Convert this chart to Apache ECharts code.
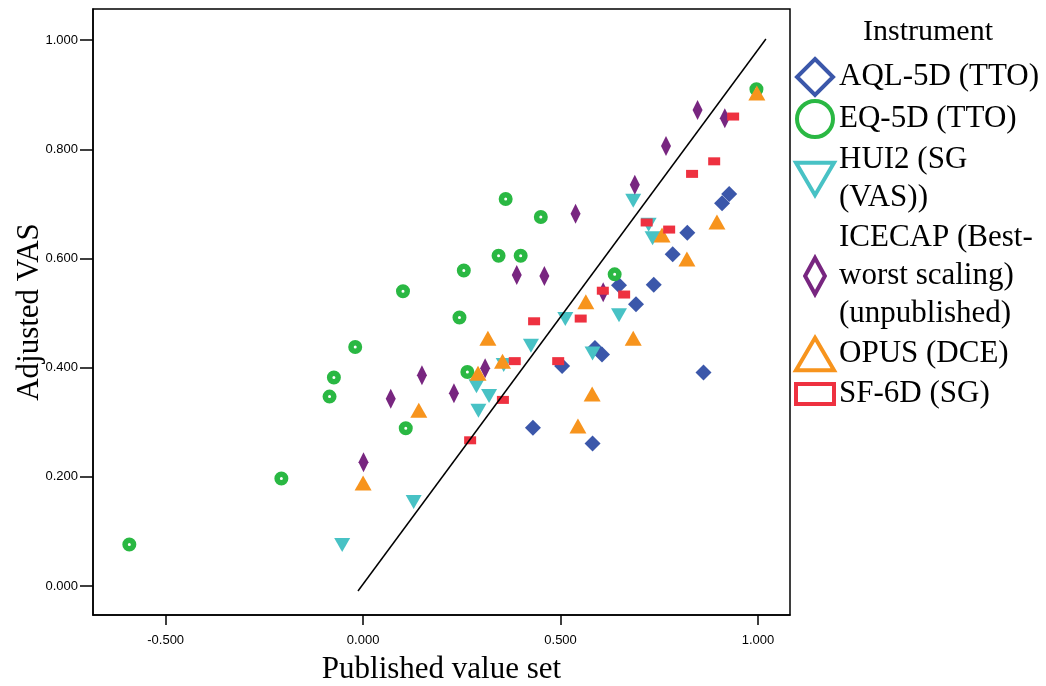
<!DOCTYPE html>
<html>
<head>
<meta charset="UTF-8">
<script src="https://cdn.jsdelivr.net/npm/echarts@6.0.0/dist/echarts.min.js"></script>
<style>
  * { margin: 0; padding: 0; }
  body { background: #fff; }
  #chart { width: 1046px; height: 686px; }
</style>
</head>
<body>
<div id="chart"></div>
<script>
// point data [published, adjusted VAS] per instrument
var aql = [[0.927,0.718],[0.909,0.701],[0.821,0.647],[0.784,0.608],[0.736,0.552],[0.648,0.551],
  [0.691,0.516],[0.587,0.436],[0.605,0.424],[0.504,0.403],[0.862,0.391],[0.430,0.290],[0.581,0.261]];
var eq = [[0.996,0.910],[0.361,0.709],[0.450,0.676],[0.343,0.605],[0.399,0.605],[0.255,0.578],
  [0.637,0.571],[0.101,0.540],[0.244,0.492],[-0.020,0.438],[0.264,0.392],[-0.074,0.382],
  [-0.085,0.347],[0.108,0.289],[-0.207,0.197],[-0.592,0.076]];
var hui2 = [[0.684,0.706],[0.723,0.662],[0.733,0.637],[0.512,0.489],[0.648,0.496],[0.425,0.440],
  [0.581,0.426],[0.356,0.405],[0.287,0.366],[0.319,0.348],[0.292,0.321],[0.128,0.154],[-0.053,0.075]];
var icecap = [[0.847,0.872],[0.916,0.857],[0.767,0.806],[0.688,0.735],[0.538,0.682],[0.389,0.570],
  [0.459,0.568],[0.608,0.538],[0.309,0.399],[0.149,0.386],[0.230,0.353],[0.070,0.343],[0.001,0.227]];
var opus = [[0.997,0.903],[0.896,0.667],[0.757,0.643],[0.820,0.599],[0.564,0.521],[0.316,0.454],
  [0.684,0.454],[0.353,0.412],[0.291,0.390],[0.580,0.352],[0.141,0.322],[0.544,0.293],[0.000,0.189]];
var sf6d = [[0.937,0.860],[0.889,0.778],[0.833,0.755],[0.718,0.666],[0.775,0.653],[0.607,0.541],
  [0.661,0.534],[0.551,0.490],[0.433,0.485],[0.384,0.412],[0.494,0.412],[0.354,0.341],[0.271,0.267]];
var fitLine = [[-0.013,-0.009],[1.020,1.002]];

var names = ['AQL-5D (TTO)', 'EQ-5D (TTO)', 'HUI2 (SG (VAS))', 'ICECAP (Best-worst scaling) (unpublished)', 'OPUS (DCE)', 'SF-6D (SG)'];
var labels = ['AQL-5D (TTO)', 'EQ-5D (TTO)', 'HUI2 (SG\n(VAS))', 'ICECAP (Best-\nworst scaling)\n(unpublished)', 'OPUS (DCE)', 'SF-6D (SG)'];
var colors = ['#3B57AA', '#2AB843', '#48C2C5', '#782680', '#F7941D', '#EE3140'];
var xTicks = [-0.5, 0, 0.5, 1.0];
var yTicks = [0, 0.2, 0.4, 0.6, 0.8, 1.0];

var icons = [
  'path://M20,0 L40,20 L20,40 L0,20 Z',
  'circle',
  'path://M0,0 L40,0 L20,34 Z',
  'path://M11,0 L22,20 L11,40 L0,20 Z',
  'path://M20,0 L40,34 L0,34 Z',
  'path://M0,0 L34,0 L34,18 L0,18 Z'
];

var chart = echarts.init(document.getElementById('chart'));

var option = {
  animation: false,
  title: {
    text: 'Instrument',
    left: 923,
    top: 12,
    textAlign: 'center',
    textStyle: { fontFamily: 'Liberation Serif', fontSize: 30, fontWeight: 'normal', color: '#000' }
  },
  legend: {
    orient: 'vertical',
    left: 789,
    top: 52,
    itemWidth: 38,
    itemHeight: 36,
    itemGap: 2,
    selectedMode: false,
    data: names.map(function (n, i) {
      return {
        name: n,
        icon: icons[i],
        itemStyle: { color: '#fff', borderColor: colors[i], borderWidth: 4, opacity: 1 }
      };
    }),
    formatter: function (name) { return labels[names.indexOf(name)]; },
    textStyle: { fontFamily: 'Liberation Serif', fontSize: 31, lineHeight: 38, color: '#000' }
  },
  grid: {
    left: 93, right: 256, top: 9, bottom: 71,
    outerBoundsMode: 'none',
    show: true, borderColor: '#000', borderWidth: 1.5
  },
  xAxis: {
    type: 'value',
    min: -0.684, max: 1.081,
    name: 'Published value set',
    nameLocation: 'middle',
    nameMoveOverlap: false,
    nameGap: 39,
    nameTextStyle: { fontFamily: 'Liberation Serif', fontSize: 31, color: '#000' },
    axisLine: { onZero: false, lineStyle: { color: '#000', width: 1.5 } },
    axisTick: { show: true, length: 10, customValues: xTicks, lineStyle: { color: '#000', width: 1.5 } },
    axisLabel: {
      customValues: xTicks, margin: 19, fontFamily: 'Liberation Sans', fontSize: 13, color: '#000',
      formatter: function (v) { return v.toFixed(3); }
    },
    splitLine: { show: false }
  },
  yAxis: {
    type: 'value',
    min: -0.053, max: 1.057,
    name: 'Adjusted VAS',
    nameLocation: 'middle',
    nameMoveOverlap: false,
    nameGap: 48,
    nameTextStyle: { fontFamily: 'Liberation Serif', fontSize: 31, color: '#000' },
    axisLine: { onZero: false, lineStyle: { color: '#000', width: 1.5 } },
    axisTick: { show: true, length: 13, customValues: yTicks, lineStyle: { color: '#000', width: 1.5 } },
    axisLabel: {
      customValues: yTicks, margin: 15, fontFamily: 'Liberation Sans', fontSize: 13, color: '#000',
      formatter: function (v) { return v.toFixed(3); }
    },
    splitLine: { show: false }
  },
  series: [
    { name: names[0], type: 'scatter', data: aql, symbol: 'diamond', symbolSize: 16,
      itemStyle: { color: colors[0], opacity: 1 } },
    { name: names[1], type: 'scatter', data: eq, symbol: 'circle', symbolSize: 8.5,
      itemStyle: { color: '#fff', borderColor: colors[1], borderWidth: 5.5, opacity: 1 } },
    { name: names[2], type: 'scatter', data: hui2, symbol: 'triangle', symbolSize: [16, 14], symbolRotate: 180,
      itemStyle: { color: colors[2], opacity: 1 } },
    { name: names[3], type: 'scatter', data: icecap, symbol: 'diamond', symbolSize: [10, 20],
      itemStyle: { color: colors[3], opacity: 1 } },
    { name: names[4], type: 'scatter', data: opus, symbol: 'triangle', symbolSize: [17, 15],
      itemStyle: { color: colors[4], opacity: 1 } },
    { name: names[5], type: 'scatter', data: sf6d, symbol: 'rect', symbolSize: [12, 8],
      itemStyle: { color: colors[5], opacity: 1 } },
    { name: 'fit', type: 'line', data: fitLine, symbol: 'none', silent: true,
      lineStyle: { color: '#000', width: 1.5 } }
  ]
};

chart.setOption(option);
</script>
</body>
</html>
